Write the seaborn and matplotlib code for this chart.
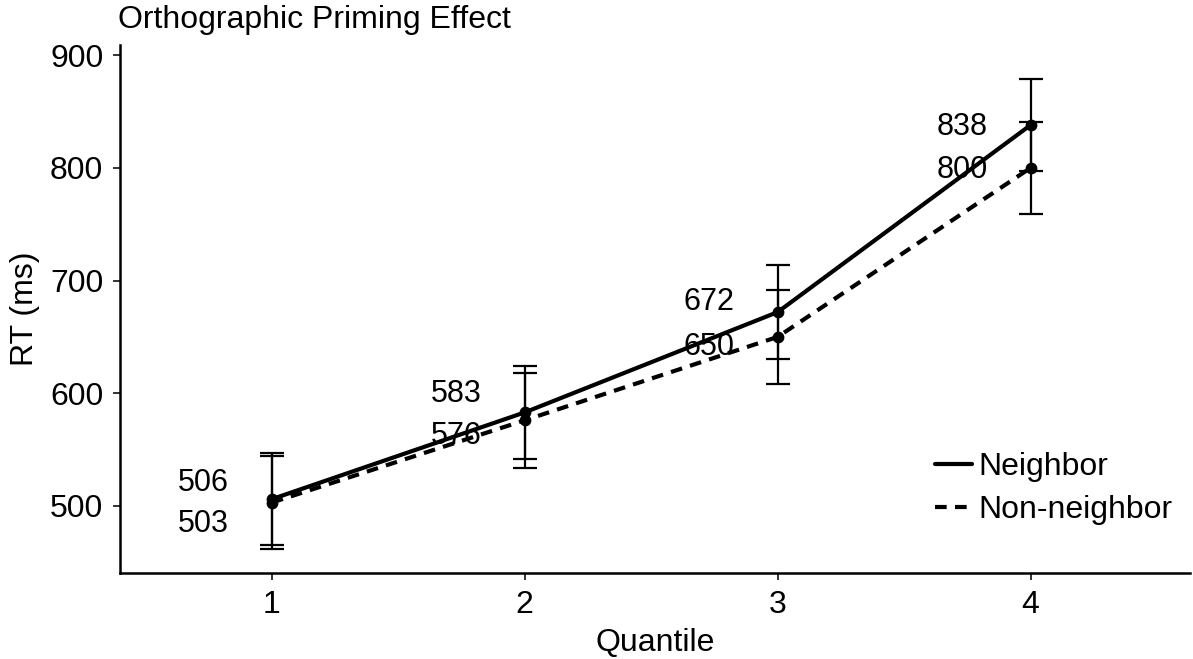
import matplotlib
matplotlib.use("Agg")
import matplotlib.pyplot as plt
import seaborn as sns
import pandas as pd
from matplotlib.lines import Line2D

quantiles = [1, 2, 3, 4]
neighbor = [506, 583, 672, 838]
non_neighbor = [503, 576, 650, 800]
err_neighbor = [41, 41, 42, 41]
err_non_neighbor = [41, 42, 42, 41]
groups = ["Neighbor", "Non-neighbor"]

df = pd.DataFrame({
    "Quantile": quantiles * 2,
    "RT": neighbor + non_neighbor,
    "Group": [groups[0]] * 4 + [groups[1]] * 4,
})

sns.set_theme(style="white")
plt.rcParams["font.family"] = ["Liberation Sans", "DejaVu Sans"]
plt.rcParams["text.color"] = "black"

W, H = 1193, 659
fig = plt.figure(figsize=(W / 100, H / 100), dpi=100)
ax = fig.add_axes([120 / W, 1 - 573 / H, 1070 / W, 528 / H])

LW = 3.0
DASH = (2.8, 2.0)
sns.lineplot(data=df, x="Quantile", y="RT", style="Group",
             dashes={"Neighbor": "", "Non-neighbor": DASH},
             color="black", linewidth=LW, ax=ax, legend=False)

for vals, errs in [(neighbor, err_neighbor), (non_neighbor, err_non_neighbor)]:
    ax.errorbar(quantiles, vals, yerr=errs, fmt="none", ecolor="black",
                elinewidth=1.6, capsize=8.6, capthick=1.6)
    ax.scatter(quantiles, vals, color="black", s=72, zorder=5, linewidths=0)

# text labels (repelled positions)
nudge_n = [14, 16, 9, -2]
nudge_nn = [-19, -14, -9, -2]
for q, v, dy in zip(quantiles, neighbor, nudge_n):
    ax.text(q - 0.27, v + dy, str(v), ha="center", va="center", fontsize=22, color="black")
for q, v, dy in zip(quantiles, non_neighbor, nudge_nn):
    ax.text(q - 0.27, v + dy, str(v), ha="center", va="center", fontsize=22, color="black")

ax.set_xlim(0.4, 4.63)
ax.set_ylim(440.5, 909)
ax.set_xticks(quantiles)
ax.set_yticks([500, 600, 700, 800, 900])
ax.tick_params(axis="both", labelsize=23, labelcolor="black", color="#333333",
               length=5, width=1.4, pad=7, direction="out", bottom=True, left=True)
for s in ["top", "right"]:
    ax.spines[s].set_visible(False)
for s in ["left", "bottom"]:
    ax.spines[s].set_color("black")
    ax.spines[s].set_linewidth(1.8)
ax.set_xlabel("Quantile", fontsize=23, color="black", labelpad=6)
ax.set_ylabel("RT (ms)", fontsize=23, color="black", labelpad=7)
fig.text(118 / W, 1 - 20 / H, "Orthographic Priming Effect", fontsize=23,
         ha="left", va="center", color="black")

handles = [Line2D([], [], color="black", linewidth=LW, linestyle="-"),
           Line2D([], [], color="black", linewidth=LW, dashes=DASH)]
leg = ax.legend(handles, groups, loc="upper left",
                bbox_to_anchor=(935 / W, 1 - 452 / H), bbox_transform=fig.transFigure,
                frameon=False, fontsize=23, handlelength=1.15, handletextpad=0.2,
                labelspacing=0.42, borderpad=0, borderaxespad=0)
for t in leg.get_texts():
    t.set_color("black")

fig.savefig("out.png", dpi=100)
